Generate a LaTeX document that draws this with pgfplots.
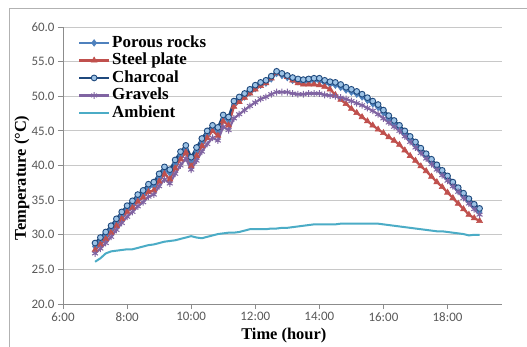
\documentclass[border=0pt]{standalone}
\usepackage{pgfplots}
\pgfplotsset{compat=1.18}
\usepackage{pgfplotstable}
\usepackage{fontspec}
\setmainfont{Liberation Serif}
\newfontfamily\calibri{Carlito}
\definecolor{cP}{HTML}{4F81BD}
\definecolor{cS}{HTML}{C0504D}
\definecolor{cC}{HTML}{1F497D}
\definecolor{cCf}{HTML}{9DC3E6}
\definecolor{cG}{HTML}{8064A2}
\definecolor{cA}{HTML}{4BACC6}
\definecolor{tickgray}{HTML}{595959}
\definecolor{axgray}{HTML}{8C8C8C}
\definecolor{gridgray}{HTML}{C8C8C8}
\pgfplotstableread{
h m P S C G A
7 0 28.3 27.8 28.8 27.3 26.1
7 10 29.1 28.6 29.6 28.0 26.6
7 20 29.9 29.4 30.4 28.8 27.3
7 30 30.8 30.3 31.3 29.7 27.6
7 40 31.8 31.3 32.3 30.7 27.7
7 50 32.8 32.3 33.3 31.7 27.8
8 0 33.7 33.3 34.2 32.6 27.9
8 10 34.4 33.9 34.9 33.3 27.9
8 20 35.3 34.8 35.8 34.1 28.1
8 30 35.9 35.4 36.4 34.7 28.3
8 40 36.8 36.2 37.3 35.5 28.5
8 50 37.1 36.4 37.6 35.8 28.6
9 0 38.3 37.7 38.8 37.0 28.8
9 10 39.3 38.8 39.8 38.0 29.0
9 20 38.9 38.0 39.4 37.4 29.1
9 30 40.3 39.6 40.8 38.8 29.2
9 40 41.5 40.9 42.0 40.0 29.4
9 50 42.4 41.9 42.9 41.0 29.6
10 0 40.7 39.9 41.2 39.4 29.8
10 10 42.1 41.4 42.6 40.7 29.6
10 20 43.4 42.8 43.9 42.0 29.5
10 30 44.5 44.0 45.0 43.1 29.7
10 40 45.3 45.0 45.8 44.0 29.9
10 50 45.0 44.3 45.5 43.6 30.1
11 0 46.8 46.4 47.3 45.6 30.2
11 10 46.5 45.8 47.0 45.1 30.3
11 20 48.8 48.5 49.3 46.8 30.3
11 30 49.4 49.2 49.9 47.4 30.4
11 40 49.9 49.8 50.4 48.0 30.6
11 50 50.5 50.4 51.0 48.6 30.8
12 0 51.1 51.0 51.6 49.1 30.8
12 10 51.6 51.5 52.0 49.6 30.8
12 20 51.9 51.9 52.3 49.9 30.8
12 30 52.5 52.6 52.9 50.3 30.9
12 40 53.3 53.4 53.6 50.6 30.9
12 50 53.0 53.2 53.3 50.6 31.0
13 0 52.7 52.8 53.0 50.6 31.0
13 10 52.3 52.3 52.7 50.4 31.1
13 20 52.1 51.9 52.5 50.3 31.2
13 30 52.0 51.7 52.4 50.3 31.3
13 40 52.1 51.7 52.5 50.4 31.4
13 50 52.2 51.7 52.6 50.4 31.5
14 0 52.2 51.6 52.6 50.4 31.5
14 10 51.9 51.4 52.3 50.2 31.5
14 20 51.7 51.0 52.1 50.1 31.5
14 30 51.6 50.2 52.0 50.0 31.5
14 40 51.3 49.5 51.7 49.8 31.6
14 50 50.9 48.9 51.3 49.6 31.6
15 0 50.6 48.2 51.0 49.3 31.6
15 10 50.3 47.6 50.7 49.0 31.6
15 20 49.9 47.0 50.3 48.7 31.6
15 30 49.4 46.4 49.8 48.3 31.6
15 40 48.9 45.8 49.3 47.9 31.6
15 50 48.4 45.2 48.8 47.4 31.6
16 0 47.6 44.7 48.0 46.8 31.5
16 10 46.8 44.1 47.2 46.2 31.4
16 20 46.1 43.6 46.5 45.6 31.3
16 30 45.4 43.0 45.8 45.0 31.2
16 40 44.6 42.2 45.0 44.2 31.1
16 50 43.8 41.4 44.2 43.4 31.0
17 0 43.0 40.7 43.4 42.6 30.9
17 10 42.1 39.9 42.5 41.8 30.8
17 20 41.3 39.2 41.7 41.0 30.7
17 30 40.5 38.4 40.9 40.2 30.6
17 40 39.7 37.6 40.1 39.4 30.5
17 50 38.9 36.9 39.3 38.6 30.5
18 0 38.1 36.1 38.5 37.8 30.4
18 10 37.2 35.3 37.6 37.0 30.3
18 20 36.4 34.5 36.8 36.2 30.2
18 30 35.6 33.7 36.0 35.3 30.1
18 40 34.8 32.9 35.2 34.5 29.9
18 50 34.0 32.4 34.4 33.7 30.0
19 0 33.3 32.0 33.8 32.9 30.0
}\datatable
\begin{document}
\begin{tikzpicture}
\useasboundingbox (0bp,0bp) rectangle (527bp,-347bp);
\fill[white] (0bp,0bp) rectangle (527bp,-347bp);
\draw[gray!60, line width=0.8bp] (9.5bp,-347bp) -- (9.5bp,-8.5bp) -- (527bp,-8.5bp);
\begin{axis}[
  at={(63bp,-304bp)}, anchor=south west,
  scale only axis, width=439bp, height=277bp,
  xmin=6, xmax=19.7, ymin=20, ymax=60,
  axis lines*=left,
  axis line style={axgray, line width=0.8bp},
  xtick={6,8,10,12,14,16,18},
  xticklabels={6:00,8:00,10:00,12:00,14:00,16:00,18:00},
  ytick={20,25,30,35,40,45,50,55,60},
  ymajorgrids, major grid style={gridgray, line width=0.8bp},
  tick align=outside, major tick length=5bp,
  tick style={axgray, line width=0.8bp},
  /pgf/number format/assume math mode=true,
  yticklabel={\pgfmathprintnumber[fixed,fixed zerofill,precision=1]{\tick}},
  ticklabel style={font=\calibri\fontsize{13}{15}\selectfont, text=tickgray},
  xlabel={\textbf{Time (hour)}},
  xlabel style={font=\fontsize{16.5}{18}\selectfont, at={(rel axis cs:0.503,-0.1155)}, anchor=center},
  ylabel={\textbf{Temperature (\textdegree C)}},
  ylabel style={font=\fontsize{16.5}{18}\selectfont, at={(rel axis cs:-0.0934,0.455)}, anchor=center, rotate=0},
  legend style={draw=none, fill=none, at={(rel axis cs:0.027,0.982)}, anchor=north west,
    font=\bfseries\fontsize{17}{17.5}\selectfont,
    nodes={inner ysep=0.5bp, inner xsep=2bp, text height=12.5bp, text depth=4bp},
    row sep=0pt},
  legend cell align=left,
  legend image code/.code={\draw[mark repeat=2,mark phase=2] plot coordinates {(0bp,0bp) (15bp,0bp) (30bp,0bp)};},
]
\addplot[cP, line width=2.2bp, mark=diamond*, mark size=3.3bp, mark options={solid, line width=0.6bp, fill=cP}]
  table[x expr=\thisrow{h}+\thisrow{m}/60, y=P] {\datatable};
\addlegendentry{Porous rocks}
\addplot[cS, line width=2.2bp, mark=triangle*, mark size=3.4bp, mark options={solid, line width=0.6bp, fill=cS}]
  table[x expr=\thisrow{h}+\thisrow{m}/60, y=S] {\datatable};
\addlegendentry{Steel plate}
\addplot[cC, line width=2.2bp, mark=*, mark size=2.9bp, mark options={solid, line width=0.9bp, draw=cC, fill=cCf}]
  table[x expr=\thisrow{h}+\thisrow{m}/60, y=C] {\datatable};
\addlegendentry{Charcoal}
\addplot[cG, line width=2.2bp, mark=asterisk, mark size=3.4bp, mark options={solid, line width=1bp}]
  table[x expr=\thisrow{h}+\thisrow{m}/60, y=G] {\datatable};
\addlegendentry{Gravels}
\addplot[cA, no marks, line width=2bp]
  table[x expr=\thisrow{h}+\thisrow{m}/60, y=A] {\datatable};
\addlegendentry{Ambient}
\end{axis}
\end{tikzpicture}
\end{document}
